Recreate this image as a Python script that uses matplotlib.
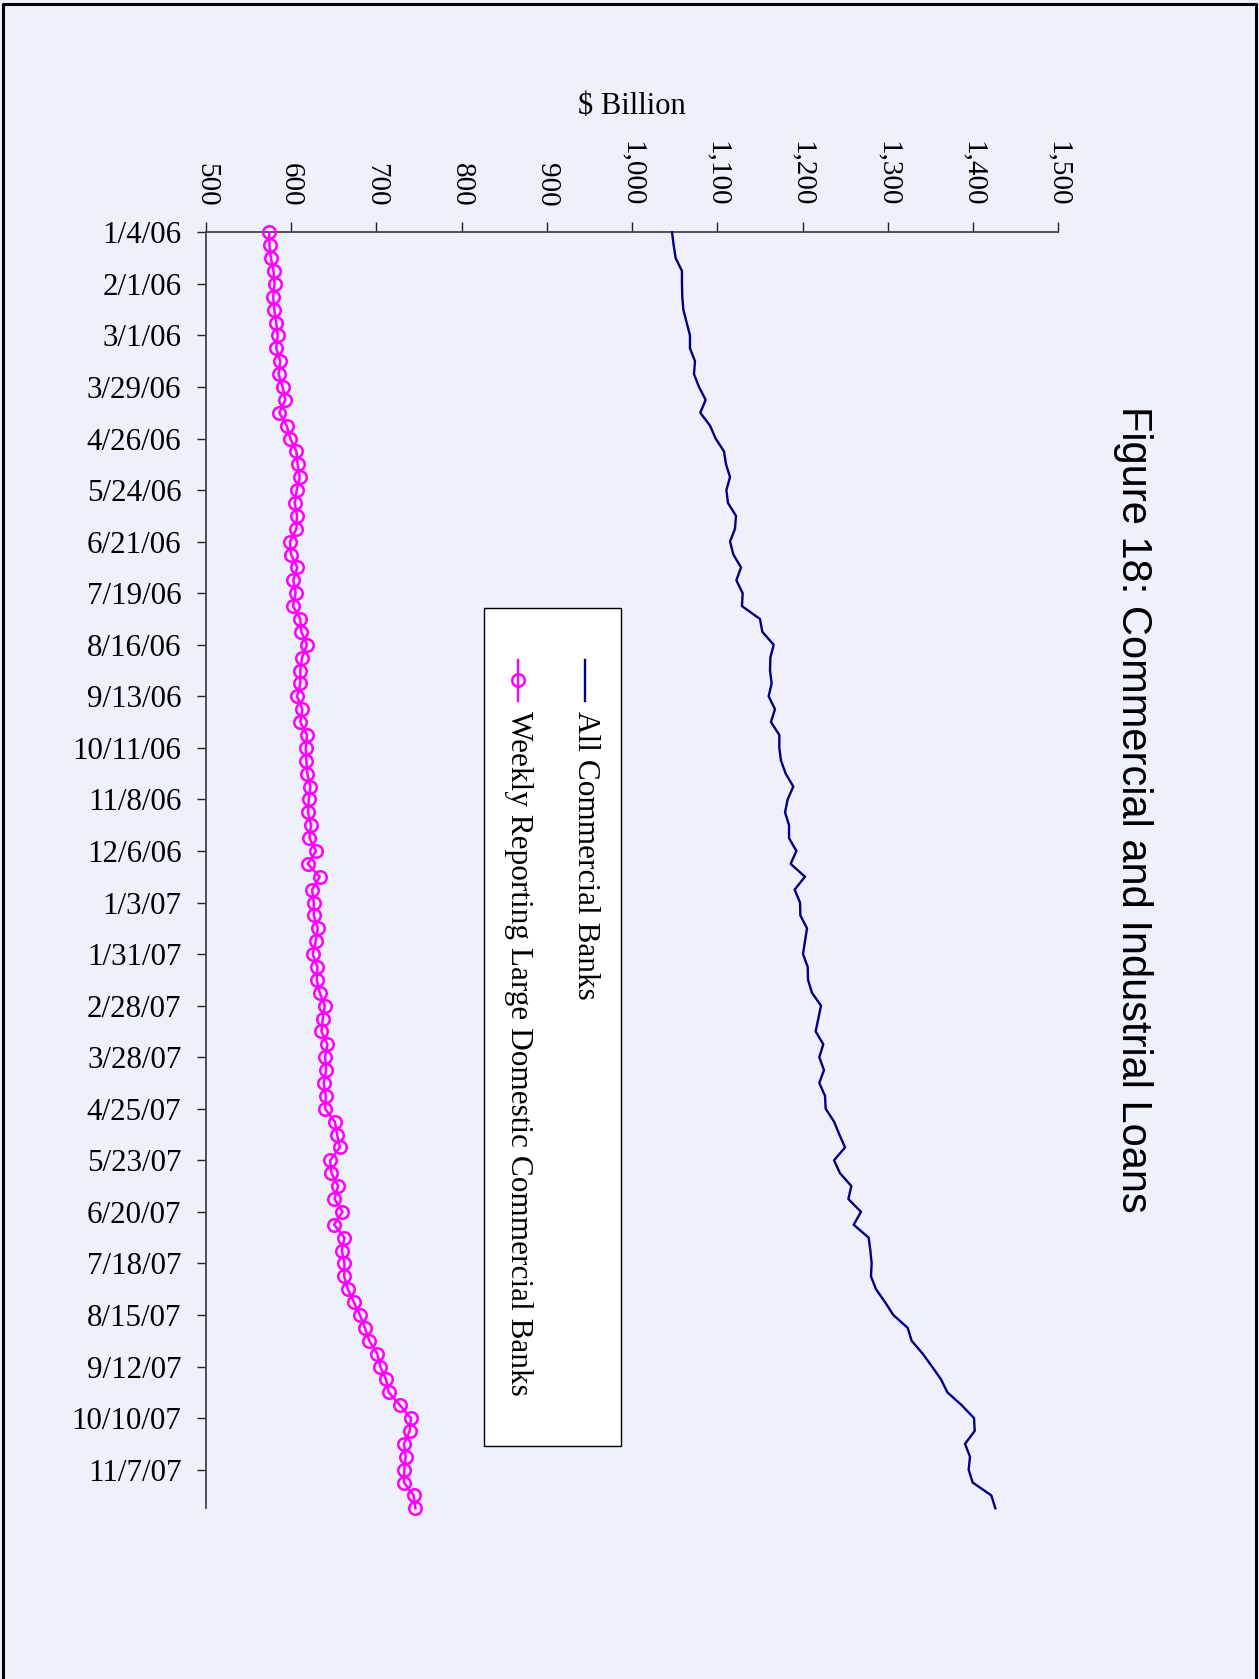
import matplotlib
matplotlib.use("Agg")
from matplotlib import pyplot as plt
from matplotlib.lines import Line2D
from matplotlib.patches import Rectangle
import pandas as pd

# weekly C&I loans, $ billion
weeks = pd.date_range("2006-01-04", periods=100, freq="7D")

all_banks = [
    1046.9, 1048.9, 1051.2, 1058.6, 1058.6, 1059.0, 1060.2, 1064.1, 1068.0, 1068.0,
    1073.9, 1072.7, 1078.6, 1086.4, 1080.1, 1091.5, 1098.1, 1107.9, 1110.3, 1115.0,
    1110.7, 1112.6, 1122.0, 1120.8, 1115.0, 1118.9, 1127.9, 1122.4, 1129.8, 1129.0,
    1150.1, 1152.9, 1166.2, 1162.3, 1161.9, 1163.8, 1160.3, 1167.7, 1163.0, 1172.8,
    1172.8, 1174.8, 1180.3, 1189.2, 1182.6, 1179.5, 1184.2, 1184.2, 1192.8, 1186.1,
    1202.9, 1190.8, 1197.1, 1197.5, 1205.3, 1202.9, 1200.6, 1206.1, 1206.5, 1211.1,
    1221.7, 1218.6, 1215.4, 1224.4, 1219.7, 1225.2, 1219.7, 1226.4, 1227.2, 1237.0,
    1243.2, 1249.9, 1237.0, 1244.0, 1257.3, 1253.8, 1268.6, 1260.0, 1277.6, 1279.6,
    1281.1, 1280.3, 1286.2, 1296.8, 1306.5, 1323.4, 1328.0, 1340.9, 1351.9, 1362.5,
    1369.9, 1386.7, 1401.2, 1402.0, 1390.6, 1396.5, 1394.9, 1399.6, 1421.5, 1426.2,
]

large_domestic = [
    574.5, 574.8, 576.4, 579.5, 580.7, 579.1, 580.3, 582.7, 584.3, 582.7,
    587.4, 585.4, 590.1, 593.3, 586.2, 594.9, 599.2, 606.3, 607.8, 610.2,
    606.7, 604.3, 607.1, 606.3, 598.8, 600.0, 607.4, 602.7, 605.4, 602.3,
    610.9, 612.1, 618.8, 612.9, 610.9, 610.9, 607.1, 613.3, 610.9, 618.8,
    617.3, 618.0, 619.2, 622.7, 620.8, 620.0, 623.5, 621.6, 629.4, 619.6,
    633.7, 624.7, 626.7, 626.7, 631.4, 629.0, 625.5, 631.0, 630.2, 633.7,
    639.6, 637.3, 635.7, 642.7, 640.0, 641.2, 638.4, 640.8, 640.0, 651.4,
    654.1, 657.3, 645.9, 647.5, 655.3, 651.0, 660.4, 650.6, 662.7, 659.6,
    662.7, 662.4, 666.7, 673.7, 680.8, 686.7, 691.8, 701.2, 704.7, 711.4,
    714.5, 727.8, 740.8, 739.2, 732.5, 734.5, 732.9, 732.5, 743.9, 745.9,
]

series_names = ["All Commercial Banks", "Weekly Reporting Large Domestic Commercial Banks"]
value_ticks = list(range(500, 1501, 100))

W, H = 1259, 1679
BG = "#EEF0FC"
NAVY = "#000080"
MAGENTA = "#FF00FF"
SERIF = "Liberation Serif"
SANS = "Liberation Sans"


def fx(px):
    return px / W


def fy(py):
    return 1 - py / H


fig = plt.figure(figsize=(W / 100, H / 100), dpi=100, facecolor=BG)
ax = fig.add_axes([fx(205.75), fy(1508.3), fx(1058.25) - fx(205.75), fy(232.3) - fy(1508.3)])
ax.set_facecolor(BG)

# values run left to right, weeks run top to bottom
ax.plot(all_banks, weeks, color=NAVY, lw=1.7, clip_on=False, zorder=3)
ax.plot(large_domestic, weeks, color=MAGENTA, lw=1.8, marker="o", ms=9,
        mfc="none", mec=MAGENTA, mew=1.8, clip_on=False, zorder=3)

ax.set_xlim(500, 1500)
ax.set_ylim(weeks[-1], weeks[0])

ax.xaxis.tick_top()
ax.set_xticks(value_ticks)
ax.set_xticklabels([f"{v:,}" for v in value_ticks], rotation=-90,
                   fontfamily=SERIF, fontsize=21)
ax.tick_params(axis="x", direction="out", length=7.5, width=1, pad=11, colors="#222222")

date_ticks = weeks[::4]
ax.set_yticks(date_ticks)
ax.set_yticklabels([f"{d.month}/{d.day}/{d.year % 100:02d}" for d in date_ticks],
                   fontfamily=SERIF, fontsize=22.3)
ax.tick_params(axis="y", direction="out", length=6.5, width=1, pad=11, colors="#222222")
for lab in ax.get_xticklabels() + ax.get_yticklabels():
    lab.set_color("black")

for side in ["right", "bottom"]:
    ax.spines[side].set_visible(False)
for side in ["left", "top"]:
    ax.spines[side].set_color("#444444")
    ax.spines[side].set_linewidth(1.3)

fig.text(fx(632), fy(106), "$ Billion", ha="center", va="center",
         fontfamily=SERIF, fontsize=22)

fig.text(fx(1133), fy(809), "Figure 18: Commercial and Industrial Loans",
         rotation=-90, ha="center", va="center", fontfamily=SANS, fontsize=30)

# legend box, drawn upright along the page
fig.patches.append(Rectangle((fx(484.3), fy(1446)), fx(620.7) - fx(484.3),
                             fy(608) - fy(1446), transform=fig.transFigure,
                             facecolor="white", edgecolor="black", lw=1.0))
legend_cols = [(585, NAVY, None), (518, MAGENTA, "o")]
for (cx, color, mk), name in zip(legend_cols, series_names):
    fig.lines.append(Line2D([fx(cx), fx(cx)], [fy(660), fy(701)], transform=fig.transFigure,
                            color=color, lw=1.7))
    if mk:
        fig.lines.append(Line2D([fx(cx)], [fy(680)], transform=fig.transFigure,
                                marker=mk, ms=9, mfc="none", mec=color, mew=1.8))
    fig.text(fx(cx), fy(711), name, rotation=-90, ha="center", va="top",
             fontfamily=SERIF, fontsize=22.5)

# page frame (left, top, right edges)
fig.lines.append(Line2D([fx(3), fx(3), fx(1255.5), fx(1255.5)], [0, fy(3.5), fy(3.5), 0],
                        transform=fig.transFigure, color="black", lw=2.2))

fig.savefig("out.png", dpi=100, facecolor=BG)
